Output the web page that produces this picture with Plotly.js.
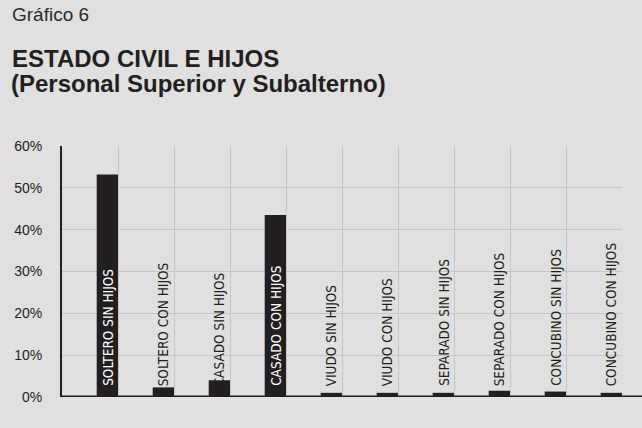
<!DOCTYPE html>
<html>
<head>
<meta charset="utf-8">
<script src="https://cdn.plot.ly/plotly-3.0.1.min.js"></script>
<style>
html,body{margin:0;padding:0;background:#e0e0e0;}
#chart{width:642px;height:428px;}
</style>
</head>
<body>
<div id="chart"></div>
<script>
const categories = [
  "SOLTERO SIN HIJOS", "SOLTERO CON HIJOS", "CASADO SIN HIJOS", "CASADO CON HIJOS",
  "VIUDO SIN HIJOS", "VIUDO CON HIJOS", "SEPARADO SIN HIJOS", "SEPARADO CON HIJOS",
  "CONCUBINO SIN HIJOS", "CONCUBINO CON HIJOS"
];
const values = [53.2, 2.3, 4.0, 43.5, 1.0, 1.0, 1.0, 1.5, 1.3, 1.0];
const yTickVals = [0, 10, 20, 30, 40, 50, 60];
const yTickText = ["0%", "10%", "20%", "30%", "40%", "50%", "60%"];
const chartNumber = "Gráfico 6";
const titleLine1 = "ESTADO CIVIL E HIJOS";
const titleLine2 = "(Personal Superior y Subalterno)";

const BAR_OFFSET = 0.12, BAR_WIDTH = 0.38;
const narrow = "DejaVu Sans Condensed, Liberation Sans Narrow, sans-serif";

const trace = {
  type: "bar",
  x: categories,
  y: values,
  offset: BAR_OFFSET,
  width: BAR_WIDTH,
  marker: {color: "#231f20"},
  hoverinfo: "skip"
};

const labelAnns = categories.map((c, i) => ({
  xref: "x", yref: "y",
  x: i + BAR_OFFSET + BAR_WIDTH / 2,
  y: 0,
  yshift: 9,
  text: c,
  textangle: -90,
  showarrow: false,
  xanchor: "center",
  yanchor: "bottom",
  font: {family: narrow, size: 13.5, color: values[i] > 20 ? "#ffffff" : "#231f20"}
}));

const W = 642, L = 62, R = 20, T = 146, B = 31;
const plotW = W - L - R, plotH = 428 - T - B;
const px = p => (p - L) / plotW;
const py = p => (428 - B - p) / plotH;

const titleAnns = [
  {xref: "paper", yref: "paper", x: px(10), y: py(14), xanchor: "left", yanchor: "middle",
   text: chartNumber, showarrow: false,
   font: {family: "Liberation Sans, Arial, sans-serif", size: 19, color: "#2a2a2a"}},
  {xref: "paper", yref: "paper", x: px(10), y: py(58), xanchor: "left", yanchor: "middle",
   text: titleLine1, showarrow: false,
   font: {family: "Liberation Sans, Arial, sans-serif", size: 24, color: "#231f20", weight: "bold"}},
  {xref: "paper", yref: "paper", x: px(9), y: py(83), xanchor: "left", yanchor: "middle",
   text: titleLine2, showarrow: false,
   font: {family: "Liberation Sans, Arial, sans-serif", size: 24, color: "#231f20", weight: "bold"}}
];

const layout = {
  width: 642, height: 428,
  margin: {l: L, r: R, t: T, b: B, pad: 0},
  paper_bgcolor: "#e0e0e0",
  plot_bgcolor: "#e0e0e0",
  showlegend: false,
  xaxis: {
    type: "category",
    range: [-0.5, categories.length - 0.5],
    tickson: "boundaries",
    showticklabels: false,
    ticks: "",
    showgrid: true,
    gridcolor: "#c6c6c6",
    gridwidth: 1,
    showline: false,
    zeroline: false,
    fixedrange: true
  },
  yaxis: {
    range: [0, 60],
    tickvals: yTickVals,
    ticktext: yTickText,
    showgrid: true,
    gridcolor: "#c6c6c6",
    gridwidth: 1,
    zeroline: false,
    showline: true,
    linecolor: "#231f20",
    linewidth: 2,
    ticks: "",
    ticklabelstandoff: 15,
    tickfont: {family: "Liberation Sans, Arial, sans-serif", size: 14, color: "#231f20"},
    fixedrange: true
  },
  shapes: [
    {type: "line", xref: "paper", yref: "y", x0: px(60), x1: px(642), y0: 0, y1: 0,
     line: {color: "#231f20", width: 3}}
  ],
  annotations: titleAnns.concat(labelAnns)
};

Plotly.newPlot("chart", [trace], layout, {staticPlot: true, displayModeBar: false});
</script>
</body>
</html>
